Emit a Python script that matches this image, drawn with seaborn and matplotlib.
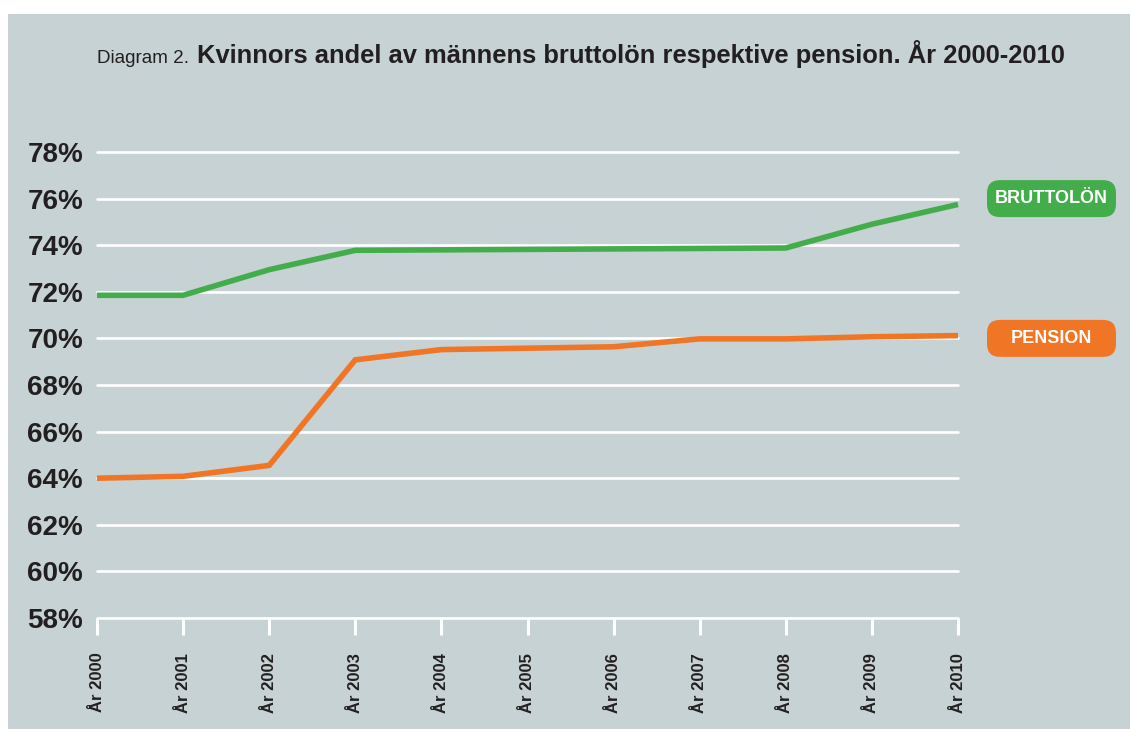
import numpy as np
import pandas as pd
import matplotlib
matplotlib.use("Agg")
import matplotlib.pyplot as plt
import seaborn as sns
from matplotlib.patches import FancyBboxPatch, Rectangle
from matplotlib.transforms import IdentityTransform

# --- data ---
years = [2000, 2001, 2002, 2003, 2004, 2005, 2006, 2007, 2008, 2009, 2010]
bruttolon = [71.85, 71.85, 72.95, 73.78, 73.80, 73.82, 73.84, 73.86, 73.88, 74.90, 75.75]
pension = [64.00, 64.08, 64.55, 69.08, 69.52, 69.58, 69.64, 69.98, 69.98, 70.07, 70.12]
series_names = ["BRUTTOLÖN", "PENSION"]
y_ticks = [58, 60, 62, 64, 66, 68, 70, 72, 74, 76, 78]
x_labels = [f"År {y}" for y in years]

title_prefix = "Diagram 2."
title_main = "Kvinnors andel av männens bruttolön respektive pension. År 2000-2010"

BG = "#c6d2d4"
GREEN = "#43ad4b"
ORANGE = "#f07524"
TEXT = "#231f20"

df = pd.DataFrame({
    "year": years * 2,
    "value": bruttolon + pension,
    "series": [series_names[0]] * len(years) + [series_names[1]] * len(years),
})

sns.set_theme(style="white")
plt.rcParams["font.family"] = ["Liberation Sans", "DejaVu Sans"]

W, H = 1130, 729
fig = plt.figure(figsize=(W / 100, H / 100), dpi=100, facecolor="white")

# coloured panel (white strip on top and left)
fig.patches.append(Rectangle((8 / W, 0), 1 - 8 / W, 1 - 14 / H,
                             transform=fig.transFigure, facecolor=BG,
                             edgecolor="none", zorder=-1))

ax = fig.add_axes([97 / W, 1 - 618 / H, (958 - 97) / W, (618 - 152) / H])
ax.set_facecolor("none")

palette = {series_names[0]: GREEN, series_names[1]: ORANGE}
sns.lineplot(data=df, x="year", y="value", hue="series", palette=palette,
             linewidth=4, ax=ax, legend=False, zorder=3)
for ln in ax.lines:
    ln.set_clip_on(False)
    ln.set_solid_joinstyle("miter")
    ln.set_solid_capstyle("butt")

ax.set_xlim(years[0], years[-1])
ax.set_ylim(y_ticks[0], y_ticks[-1])
ax.set_yticks(y_ticks)
ax.set_yticklabels([f"{t}%" for t in y_ticks], fontsize=20, fontweight="bold", color=TEXT)
ax.set_xticks(years)
ax.set_xticklabels(x_labels, rotation=90, fontsize=12, fontweight="bold", color=TEXT)
ax.set_xlabel("")
ax.set_ylabel("")

for t in y_ticks:
    ax.axhline(t, color="white", linewidth=1.9, zorder=1, clip_on=False)

for s in ax.spines.values():
    s.set_visible(False)
ax.tick_params(axis="y", length=0, pad=10)
ax.tick_params(axis="x", length=12, width=2.2, color="white", direction="out", pad=13,
               bottom=True)

# title
fig.text(97 / W, 1 - 63 / H, title_prefix, fontsize=13.6, color=TEXT, va="baseline", ha="left")
fig.text(197 / W, 1 - 63 / H, title_main, fontsize=18.4, fontweight="bold", color=TEXT,
         va="baseline", ha="left")

# end labels in rounded boxes, centred on the gridline nearest the last value
box_w, box_h = 129, 37
x0 = 987
for name, vals, col in [(series_names[0], bruttolon, GREEN), (series_names[1], pension, ORANGE)]:
    anchor = min(y_ticks, key=lambda t: abs(t - vals[-1]))
    yc = ax.transData.transform((years[-1], anchor))[1]
    box = FancyBboxPatch((x0, yc - box_h / 2), box_w, box_h,
                         boxstyle="round,pad=0,rounding_size=13",
                         transform=IdentityTransform(), facecolor=col,
                         edgecolor="none", zorder=5)
    fig.patches.append(box)
    fig.text((x0 + box_w / 2) / W, yc / H, name, color="white", fontsize=13,
             fontweight="bold", ha="center", va="center", zorder=6)

fig.savefig("out.png", dpi=100, facecolor="white")
